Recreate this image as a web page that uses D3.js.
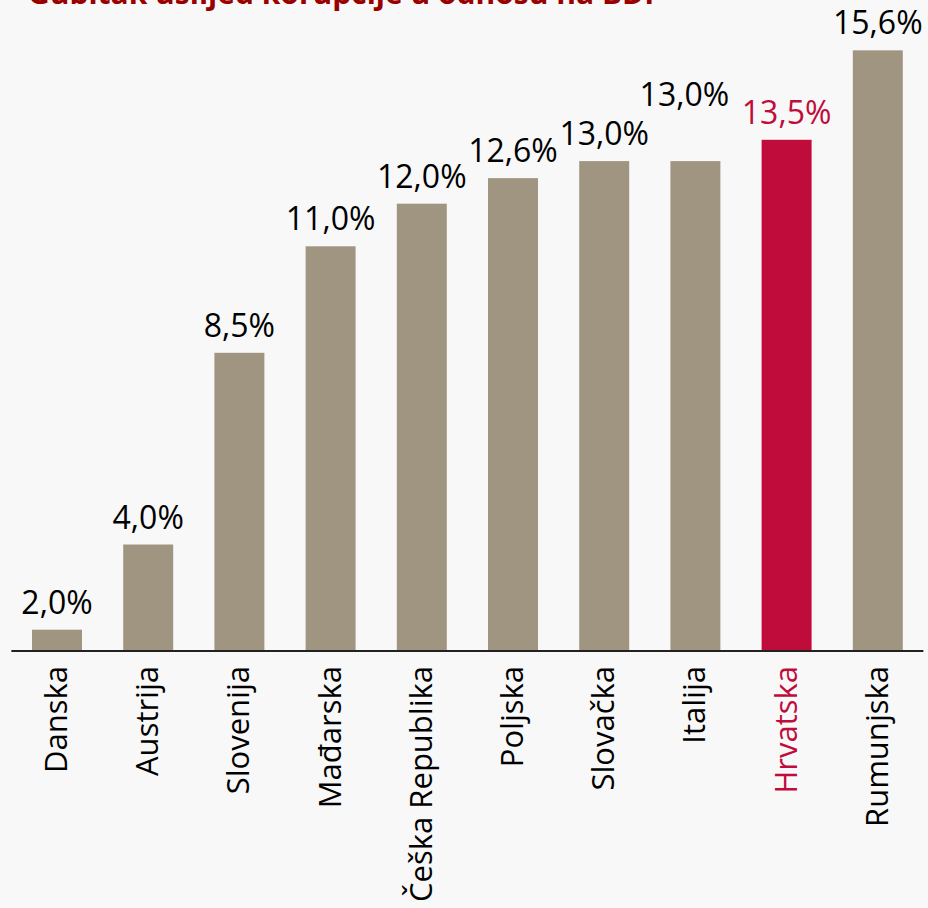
<!DOCTYPE html>
<html>
<head>
<meta charset="utf-8">
<script src="https://cdn.jsdelivr.net/npm/d3@7"></script>
<style>
  html, body { margin: 0; padding: 0; background: #f8f8f8; }
  svg { display: block; }
  text { font-family: "Open Sans", "Noto Sans", sans-serif; }
</style>
</head>
<body>
<div id="chart"></div>
<script>
const title = "Gubitak uslijed korupcije u odnosu na BDP";
const categories = ["Danska", "Austrija", "Slovenija", "Mađarska", "Češka Republika", "Poljska", "Slovačka", "Italija", "Hrvatska", "Rumunjska"];
const values = [2.0, 4.0, 8.5, 11.0, 12.0, 12.6, 13.0, 13.0, 13.5, 15.6];
const highlight = "Hrvatska";

const W = 928, H = 908;
const baseColor = "#a09580", hiColor = "#c00c3b";
const fmt = v => d3.format(".1f")(v).replace(".", ",") + "%";

const svg = d3.select("#chart").append("svg").attr("width", W).attr("height", H);

svg.append("text")
  .attr("x", 28).attr("y", 4)
  .attr("fill", "#990000")
  .attr("font-weight", "bold")
  .attr("font-size", 30)
  .text(title);

const x = d3.scaleBand().domain(categories).range([11.4, 923.4]).paddingInner(0.452).paddingOuter(0.226);
const y = d3.scaleLinear().domain([1.5, 16.5]).range([651, 12]);

const data = categories.map((c, i) => ({ c, v: values[i] }));

svg.selectAll("rect.bar").data(data).join("rect")
  .attr("class", "bar")
  .attr("x", d => x(d.c))
  .attr("width", x.bandwidth())
  .attr("y", d => y(d.v))
  .attr("height", d => y(1.5) - y(d.v))
  .attr("fill", d => d.c === highlight ? hiColor : baseColor);

// value labels (Italija label was manually moved in original)
svg.selectAll("text.val").data(data).join("text")
  .attr("class", "val")
  .attr("text-anchor", "middle")
  .attr("font-size", 32)
  .attr("x", d => x(d.c) + x.bandwidth() / 2 + (d.c === "Italija" ? -11 : 0))
  .attr("y", d => y(d.v) - 16 + (d.c === "Italija" ? -39 : 0))
  .attr("fill", d => d.c === highlight ? hiColor : "#000")
  .text(d => fmt(d.v));

// x axis
const axis = d3.axisBottom(x).tickSize(0).tickPadding(0);
const g = svg.append("g").attr("transform", "translate(0,651)").call(axis);
g.select(".domain").attr("stroke", "#222").attr("stroke-width", 2).attr("d", "M11.4,0H923.4");
g.selectAll(".tick text")
  .attr("font-size", 31)
  .attr("font-family", "'Open Sans', 'Noto Sans', sans-serif")
  .attr("fill", d => d === highlight ? hiColor : "#000")
  .attr("text-anchor", "end")
  .attr("transform", "rotate(-90)")
  .attr("x", -15)
  .attr("y", 0)
  .attr("dy", "0.32em");
</script>
</body>
</html>
